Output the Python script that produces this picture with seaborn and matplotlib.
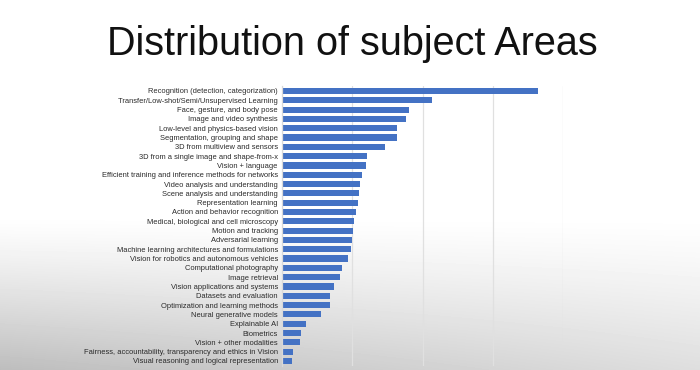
import numpy as np
import pandas as pd
import matplotlib
matplotlib.use("Agg")
import matplotlib.pyplot as plt
import seaborn as sns

categories = [
    "Recognition (detection, categorization)",
    "Transfer/Low-shot/Semi/Unsupervised Learning",
    "Face, gesture, and body pose",
    "Image and video synthesis",
    "Low-level and physics-based vision",
    "Segmentation, grouping and shape",
    "3D from multiview and sensors",
    "3D from a single image and shape-from-x",
    "Vision + language",
    "Efficient training and inference methods for networks",
    "Video analysis and understanding",
    "Scene analysis and understanding",
    "Representation learning",
    "Action and behavior recognition",
    "Medical, biological and cell microscopy",
    "Motion and tracking",
    "Adversarial learning",
    "Machine learning architectures and formulations",
    "Vision for robotics and autonomous vehicles",
    "Computational photography",
    "Image retrieval",
    "Vision applications and systems",
    "Datasets and evaluation",
    "Optimization and learning methods",
    "Neural generative models",
    "Explainable AI",
    "Biometrics",
    "Vision + other modalities",
    "Fairness, accountability, transparency and ethics in Vision",
    "Visual reasoning and logical representation",
]
counts = [364, 214, 181, 176, 164, 163, 147, 121, 119, 114, 111, 109, 108, 106,
          102, 101, 100, 98, 94, 85, 82, 74, 69, 68, 56, 34, 27, 26, 15, 14]
grid_ticks = [0, 100, 200, 300, 400]

df = pd.DataFrame({"area": categories, "count": counts})

sns.set_theme(style="white")
plt.rcParams["font.family"] = ["Liberation Sans", "DejaVu Sans"]

W, H = 700, 370
fig = plt.figure(figsize=(W / 100, H / 100), dpi=100)

# background gradient (video-frame look)
bg = fig.add_axes([0, 0, 1, 1], zorder=-10)
yy, xx = np.mgrid[0:H, 0:W]
t = np.clip((yy - 215) / (H - 215), 0, 1) ** 1.2
shade = 1 - 0.26 * t * (1 - 0.5 * xx / W)
bg.imshow(shade, cmap="gray", vmin=0, vmax=1, aspect="auto",
          extent=[0, 1, 0, 1], interpolation="bilinear")
bg.axis("off")

left, right = 282 / W, 563 / W
top = 1 - 86.3 / H
bottom = 1 - 365.6 / H
ax = fig.add_axes([left, bottom, right - left, top - bottom])
ax.set_facecolor("none")

sns.barplot(data=df, y="area", x="count", orient="h", color="#4472C4",
            saturation=1, width=0.66, linewidth=0, ax=ax)

ax.set_xlim(grid_ticks[0], grid_ticks[-1])
ax.set_ylim(len(categories) - 0.5, -0.5)
ax.set_xticks(grid_ticks)
ax.set_xticklabels([])
ax.tick_params(axis="x", length=0)
ax.tick_params(axis="y", length=0, pad=3, labelsize=5.4, labelcolor="#2a2a2a")
ax.xaxis.grid(True, color="#e0e0e0", linewidth=0.9)
ax.set_axisbelow(True)
ax.set_xlabel("")
ax.set_ylabel("")
for s in ["top", "right", "bottom"]:
    ax.spines[s].set_visible(False)
ax.spines["left"].set_color("#d9d9d9")
ax.spines["left"].set_linewidth(0.9)

fig.text(0.504, 1 - 55 / H, "Distribution of subject Areas", ha="center",
         va="baseline", fontsize=28.5, color="#111111")

fig.savefig("out.png", dpi=100)
